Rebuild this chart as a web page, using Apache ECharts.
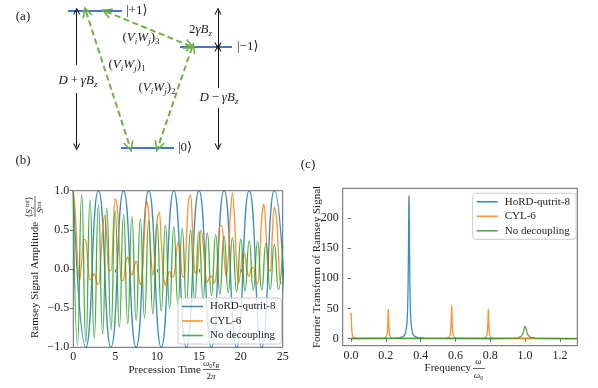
<!DOCTYPE html>
<html>
<head>
<meta charset="utf-8">
<script src="https://cdn.jsdelivr.net/npm/echarts@6/dist/echarts.min.js"></script>
<style>
  html, body { margin: 0; padding: 0; background: #fff; }
  #chart { width: 598px; height: 388px; }
</style>
</head>
<body>
<div id="chart"></div>
<script>
(function() {
  'use strict';

  var font = "'Liberation Serif', 'DejaVu Serif', serif";
  var ink = '#222';
  var frame = '#555';
  var blue = '#1f77b4', orange = '#ff7f0e', green = '#2ca02c';
  var levelBlue = '#4274d6', coupleGreen = '#6db33f';
  var seriesNames = ['HoRD-qutrit-8', 'CYL-6', 'No decoupling'];

  // ========== Data: (b) Ramsey signal ==========
  // HoRD-qutrit-8: extrema of the oscillation
  var hordTime = [0, 1.5, 3, 4.5, 6, 7.5, 9, 10.5, 12, 13.5, 15, 16.5, 18, 19.5, 21, 22.5, 24, 25.5];
  var hordSignal = [1, -1, 1, -1, 1, -1, 1, -1, 1, -1, 1, -1, 1, -1, 1, -1, 1, -1];

  // CYL-6: sampled every 0.25
  var cylStep = 0.25;
  var cylSignal = [
    1.00, 0.70, 0.12, -0.14, 0.08, 0.38, 0.36, 0.07, -0.14, -0.11,
    -0.06, -0.15, -0.20, 0.05, 0.49, 0.68, 0.40, -0.02, -0.02, 0.46,
    0.90, 0.80, 0.28, -0.15, -0.14, 0.09, 0.15, 0.01, -0.08, 0.02,
    0.10, -0.04, -0.20, -0.03, 0.48, 0.87, 0.72, 0.21, -0.08, 0.17,
    0.62, 0.73, 0.36, -0.09, -0.21, -0.09, -0.03, -0.10, -0.09, 0.14,
    0.34, 0.22, -0.08, -0.11, 0.35, 0.88, 0.94, 0.46, -0.04, -0.06,
    0.28, 0.50, 0.32, -0.03, -0.17, -0.11, -0.09, -0.18, -0.14, 0.19,
    0.55, 0.55, 0.17, -0.10, 0.15, 0.70, 0.97, 0.64, 0.07, -0.18,
    -0.01, 0.22, 0.17, -0.03, -0.09, 0.01, 0.02, -0.14, -0.19, 0.13,
    0.65, 0.83, 0.49, 0.02, -0.03, 0.41, 0.79, 0.67, 0.18, -0.18,
    -0.17
  ];

  // No decoupling: extrema every half period
  var freeStep = 0.5;
  var freeSignal = [
    1.00, -0.97, 0.95, -0.94, 0.88, -0.88, 0.82, -0.83, 0.78, -0.78,
    0.74, -0.74, 0.70, -0.70, 0.67, -0.66, 0.64, -0.62, 0.61, -0.58,
    0.58, -0.54, 0.56, -0.50, 0.54, -0.46, 0.52, -0.43, 0.50, -0.40,
    0.48, -0.37, 0.46, -0.34, 0.44, -0.32, 0.42, -0.30, 0.40, -0.29,
    0.38, -0.28, 0.36, -0.27, 0.35, -0.27, 0.33, -0.26, 0.31, -0.26,
    0.30
  ];

  var timeTicks = [0, 5, 10, 15, 20, 25];
  var ampTicks = [-1, -0.5, 0, 0.5, 1];

  // ========== Data: (c) Fourier transform ==========
  var fftHord = [
    [0, 0.1], [0.2, 0.2], [0.25, 0.55], [0.283, 1.5], [0.303, 4.1], [0.313, 9.1], [0.321, 23.7],
    [0.325, 47], [0.328, 93], [0.330, 152], [0.331, 190], [0.332, 223], [0.333, 237],
    [0.334, 223], [0.335, 190], [0.336, 152], [0.338, 93], [0.341, 47], [0.345, 23.7],
    [0.353, 9.1], [0.363, 4.1], [0.383, 1.5], [0.42, 0.55], [0.5, 0.2], [0.8, 0.05], [1.3, 0.02]
  ];
  var fftCyl = [
    [0, 43], [0.001, 39], [0.002, 30], [0.003, 21.5], [0.005, 11], [0.008, 5.2], [0.015, 1.6], [0.03, 0.4], [0.1, 0.15],
    [0.184, 0.5], [0.199, 1.9], [0.206, 5.9], [0.209, 12.7], [0.211, 24.5], [0.212, 33.8], [0.213, 44], [0.214, 49],
    [0.215, 44], [0.216, 33.8], [0.217, 24.5], [0.219, 12.7], [0.222, 5.9], [0.229, 1.9], [0.244, 0.5], [0.4, 0.15],
    [0.548, 0.55], [0.563, 2.1], [0.570, 6.6], [0.573, 14.3], [0.575, 27.5], [0.576, 38], [0.577, 49.5], [0.578, 55],
    [0.579, 49.5], [0.580, 38], [0.581, 27.5], [0.583, 14.3], [0.586, 6.6], [0.593, 2.1], [0.608, 0.55], [0.7, 0.3],
    [0.759, 0.6], [0.774, 1.9], [0.781, 5.9], [0.784, 12.7], [0.786, 24.5], [0.787, 33.8], [0.788, 44], [0.789, 49],
    [0.790, 44], [0.791, 33.8], [0.792, 24.5], [0.794, 12.7], [0.797, 5.9], [0.804, 1.9], [0.819, 0.6], [0.9, 0.4],
    [1.0, 0.5], [1.1, 0.3], [1.3, 0.1]
  ];
  var fftFree = [
    [0, 0.05], [0.8, 0.05], [0.9, 0.2], [0.94, 0.55], [0.96, 1.2], [0.97, 2.1], [0.98, 4.2], [0.985, 6.5],
    [0.99, 10.5], [0.995, 16.8], [1.0, 21], [1.005, 16.8], [1.01, 10.5], [1.015, 6.5], [1.02, 4.2],
    [1.03, 2.1], [1.04, 1.2], [1.06, 0.55], [1.1, 0.2], [1.2, 0.05], [1.3, 0.02]
  ];
  var freqTicks = [0, 0.2, 0.4, 0.6, 0.8, 1.0, 1.2];
  var fftTicks = [0, 50, 100, 150, 200];

  // ========== Data: (a) level diagram (diagram units) ==========
  var levelLabels = ['|+1\u27E9', '|\u22121\u27E9', '|0\u27E9'];
  var levelSpans = [[68, 122, 10.5], [180, 232, 46.7], [121, 174, 148]];
  var gapArrows = [
    [[76.7, 65], [76.7, 11]], [[76.7, 93], [76.7, 147]],
    [[218, 28], [218, 11]], [[218, 28], [218, 46]],
    [[218, 88], [218, 48]], [[218, 108], [218, 147]]
  ];
  var couplingArrows = [
    [[86, 11.5], [130, 147]],
    [[192, 47.5], [158, 147]],
    [[106, 11.5], [190, 46]]
  ];

  function minus(v) { return String(v).replace('-', '\u2212'); }

  function tok(size, italic, lh, va) {
    var t = { fontFamily: font, fontSize: size, lineHeight: lh, fill: ink, color: ink };
    if (italic) t.fontStyle = 'italic';
    if (va) t.verticalAlign = va;
    return t;
  }
  var rich = {
    // diagram text
    i: tok(13, true, 16), n: tok(13, false, 16),
    sb: tok(9, true, 9, 'bottom'), sbn: tok(9, false, 9, 'bottom'),
    // axis-title fractions
    fi: tok(9, true, 11), fn: tok(9, false, 11),
    fs: tok(6, true, 6, 'bottom'), fsn: tok(6, false, 6, 'bottom'),
    sp: tok(6.5, false, 7, 'top')
  };

  function txt(x, y, text, align, extra) {
    var st = {
      x: x, y: y, text: text, rich: rich,
      fontFamily: font, fontSize: 11, fill: ink,
      align: align || 'center', textAlign: align || 'center',
      verticalAlign: 'middle', textVerticalAlign: 'middle'
    };
    if (extra) { for (var k in extra) st[k] = extra[k]; }
    return { type: 'text', style: st, z: 100 };
  }
  function hline(x1, x2, y) {
    return { type: 'line', shape: { x1: x1, y1: y, x2: x2, y2: y }, style: { stroke: ink, lineWidth: 0.7 }, z: 100 };
  }

  var chevron = 'path://M0,10 L5,0 L10,10 L8.4,10 L5,3.2 L1.6,10 Z';

  var chart = echarts.init(document.getElementById('chart'), null, { renderer: 'canvas' });

  function valueAxis(gridIndex, min, max, ticks, fmt) {
    return {
      gridIndex: gridIndex, type: 'value', min: min, max: max,
      axisLine: { show: false },
      axisTick: { show: true, inside: false, length: 3.5, customValues: ticks, lineStyle: { color: frame, width: 0.8 } },
      axisLabel: { customValues: ticks, fontFamily: font, fontSize: 12, color: ink, margin: 4, formatter: fmt },
      splitLine: { show: false }
    };
  }

  function lineSeries(name, color, data, xi, smooth) {
    return {
      name: name, type: 'line', xAxisIndex: xi, yAxisIndex: xi,
      data: data, showSymbol: false, symbol: 'none', smooth: smooth,
      lineStyle: { color: color, width: 1.3, opacity: 0.85 },
      itemStyle: { color: color, opacity: 0.85 },
      clip: true, silent: true
    };
  }

  function legendAt(left, top) {
    return {
      data: seriesNames, orient: 'vertical', left: left, top: top,
      icon: 'rect', itemWidth: 21, itemHeight: 1.6, itemGap: 3.5,
      padding: [3, 6, 3, 4],
      backgroundColor: 'rgba(255,255,255,0.8)', borderColor: '#ccc', borderWidth: 1, borderRadius: 3,
      textStyle: { fontFamily: font, fontSize: 11, color: ink, padding: [0, 0, 0, 2] },
      selectedMode: false
    };
  }

  chart.setOption({
    animation: false,
    grid: [
      { left: 73.3, top: 190.7, width: 209.4, height: 156.6, show: true, borderColor: frame, borderWidth: 0.9 },
      { left: 342.7, top: 188.3, width: 234.6, height: 157.4, show: true, borderColor: frame, borderWidth: 0.9 },
      { left: 0, top: 0, width: 300, height: 160, show: false }
    ],
    xAxis: [
      valueAxis(0, 0, 25, timeTicks, function(v) { return String(v); }),
      valueAxis(1, -0.048, 1.3, freqTicks, function(v) { return v.toFixed(1); }),
      { gridIndex: 2, type: 'value', min: 0, max: 300, show: false }
    ],
    yAxis: [
      valueAxis(0, -1, 1, ampTicks, function(v) { return minus(v.toFixed(1)); }),
      valueAxis(1, -11.85, 248.85, fftTicks, function(v) { return String(v); }),
      { gridIndex: 2, type: 'value', min: 0, max: 160, inverse: true, show: false }
    ],
    legend: [legendAt(178, 298), legendAt(472.7, 193.3)],
    series: [
      lineSeries(seriesNames[0], blue, hordTime.map(function(t, i) { return [t, hordSignal[i]]; }), 0, 0.55),
      lineSeries(seriesNames[1], orange, cylSignal.map(function(v, i) { return [i * cylStep, v]; }), 0, 0.35),
      lineSeries(seriesNames[2], green, freeSignal.map(function(v, i) { return [i * freeStep, v]; }), 0, 0.55),
      lineSeries(seriesNames[0], blue, fftHord, 1, false),
      lineSeries(seriesNames[1], orange, fftCyl, 1, false),
      lineSeries(seriesNames[2], green, fftFree, 1, false),
      {
        type: 'lines', coordinateSystem: 'cartesian2d', xAxisIndex: 2, yAxisIndex: 2, silent: true,
        data: levelSpans.map(function(s) { return { coords: [[s[0], s[2]], [s[1], s[2]]] }; }),
        symbol: 'none', lineStyle: { color: levelBlue, width: 2, opacity: 1, curveness: 0 }
      },
      {
        type: 'lines', coordinateSystem: 'cartesian2d', xAxisIndex: 2, yAxisIndex: 2, silent: true,
        data: gapArrows.map(function(c) { return { coords: c }; }),
        symbol: ['none', chevron], symbolSize: 7,
        lineStyle: { color: '#111', width: 1, opacity: 1, curveness: 0 }
      },
      {
        type: 'lines', coordinateSystem: 'cartesian2d', xAxisIndex: 2, yAxisIndex: 2, silent: true,
        data: couplingArrows.map(function(c) { return { coords: c }; }),
        symbol: [chevron, chevron], symbolSize: 11,
        lineStyle: { color: coupleGreen, width: 2, type: [6, 3.5], opacity: 1, curveness: 0 }
      }
    ],
    graphic: [
      // panel tags
      txt(23, 17, '(a)', 'center', { fontSize: 13 }),
      txt(23, 161, '(b)', 'center', { fontSize: 13 }),
      txt(308, 165, '(c)', 'center', { fontSize: 13 }),
      // (a) labels
      txt(126, 10.5, levelLabels[0], 'left', { fontSize: 13 }),
      txt(237, 47, levelLabels[1], 'left', { fontSize: 13 }),
      txt(178, 148, levelLabels[2], 'left', { fontSize: 13 }),
      txt(212, 30, '{n|2}{i|\u03B3B}{sb|z}', 'right'),
      txt(78, 81, '{i|D} {n|+} {i|\u03B3B}{sb|z}', 'center'),
      txt(219, 98, '{i|D} {n|\u2212} {i|\u03B3B}{sb|z}', 'center'),
      txt(141, 38, '{n|(}{i|V}{sb|i}{i|W}{sb|j}{n|)}{sbn|3}', 'center'),
      txt(127, 65, '{n|(}{i|V}{sb|i}{i|W}{sb|j}{n|)}{sbn|1}', 'center'),
      txt(157, 88, '{n|(}{i|V}{sb|i}{i|W}{sb|j}{n|)}{sbn|2}', 'center'),
      // (b) axis names
      {
        type: 'group', x: 35, y: 265, rotation: Math.PI / 2,
        children: [
          txt(-73, 0, 'Ramsey Signal Amplitude', 'left'),
          txt(58, -5.5, '{fn|\u27E8}{fi|S}{fs|z}{sp|tot}{fn|\u27E9}', 'center'),
          hline(48, 69, 0),
          txt(58, 6, '{fi|S}{sp|tot}', 'center')
        ]
      },
      txt(201, 370, 'Precession Time', 'right'),
      txt(211, 363.5, '{fi|\u03C9}{fsn|0}{fi|\u03C4}{fs|R}', 'center'),
      hline(203, 220, 369.5),
      txt(211, 376.5, '{fn|2}{fi|\u03C0}', 'center'),
      // (c) axis names
      {
        type: 'group', x: 317, y: 267, rotation: Math.PI / 2,
        children: [txt(0, 0, 'Fourier Transform of Ramsey Signal', 'center')]
      },
      txt(471, 368.5, 'Frequency', 'right'),
      txt(478.5, 362, '{fi|\u03C9}', 'center'),
      hline(473, 485, 368.5),
      txt(478.5, 376, '{fi|\u03C9}{fsn|0}', 'center')
    ]
  });

  window.addEventListener('resize', function() { chart.resize(); });
})();
</script>
</body>
</html>
